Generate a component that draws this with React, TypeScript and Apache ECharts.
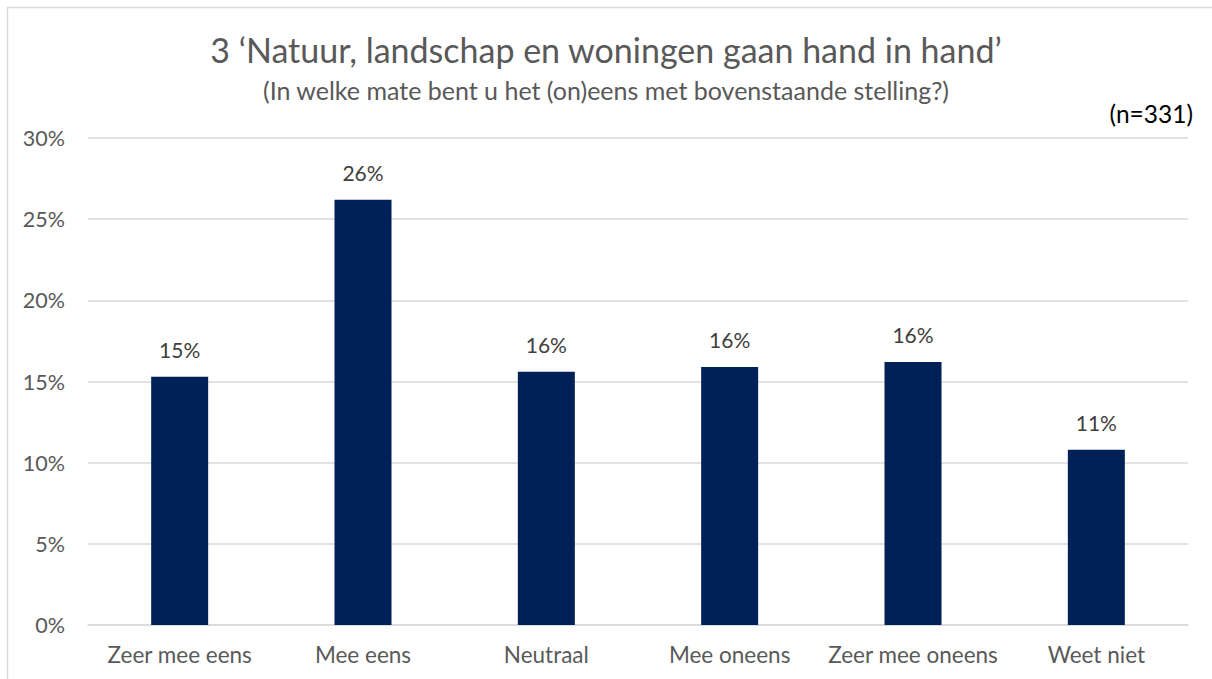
import React, { useEffect, useRef } from "react";
import * as echarts from "echarts";

const categories = ["Zeer mee eens", "Mee eens", "Neutraal", "Mee oneens", "Zeer mee oneens", "Weet niet"];
const values = [15.3, 26.2, 15.6, 15.9, 16.2, 10.8];
const yTicks = [0, 5, 10, 15, 20, 25, 30];

const titleText = "3 \u2018Natuur, landschap en woningen gaan hand in hand\u2019";
const subtitleText = "(In welke mate bent u het (on)eens met bovenstaande stelling?)";
const nText = "(n=331)";

const FONT = "Lato, 'Open Sans', sans-serif";

export default function App() {
  const ref = useRef<HTMLDivElement>(null);
  useEffect(() => {
    if (!ref.current) return;
    const chart = echarts.init(ref.current, undefined, { renderer: "svg" });
    chart.setOption({
      animation: false,
      backgroundColor: "#ffffff",
      textStyle: { fontFamily: FONT },
      title: [
        {
          text: titleText,
          left: "center",
          top: 27,
          textStyle: { fontSize: 34, fontWeight: "normal", color: "#595959", fontFamily: FONT },
        },
        {
          text: subtitleText,
          left: "center",
          top: 72,
          textStyle: { fontSize: 25, fontWeight: "normal", color: "#595959", fontFamily: FONT },
        },
        {
          text: nText,
          right: 14,
          top: 96,
          textStyle: { fontSize: 24.5, fontWeight: "normal", color: "#000000", fontFamily: FONT },
        },
      ],
      graphic: [
        {
          type: "rect",
          shape: { x: 7.5, y: 7.5, width: 1400, height: 900 },
          style: { fill: "none", stroke: "#d9d9d9", lineWidth: 1.5 },
          silent: true,
        },
      ],
      grid: { left: 88, right: 24, top: 138, bottom: 54, containLabel: false },
      xAxis: {
        type: "category",
        data: categories,
        axisLine: { show: true, lineStyle: { color: "#d9d9d9", width: 1.5 } },
        axisTick: { show: false },
        axisLabel: { color: "#595959", fontSize: 22.5, margin: 18, interval: 0, fontFamily: FONT },
      },
      yAxis: {
        type: "value",
        min: yTicks[0],
        max: yTicks[yTicks.length - 1],
        interval: 5,
        axisLine: { show: false },
        axisTick: { show: false },
        axisLabel: { color: "#595959", fontSize: 21.5, margin: 23, formatter: "{value}%", fontFamily: FONT },
        splitLine: { lineStyle: { color: "#d9d9d9", width: 1.5 } },
      },
      series: [
        {
          type: "bar",
          data: values,
          barWidth: 57,
          itemStyle: { color: "#002157" },
          label: {
            show: true,
            position: "top",
            distance: 17,
            color: "#404040",
            fontSize: 21,
            fontFamily: FONT,
            formatter: (p: any) => Math.round(p.value) + "%",
          },
        },
      ],
    });
    return () => chart.dispose();
  }, []);
  return <div ref={ref} style={{ width: 1212, height: 679, position: "absolute", left: 0, top: 0 }} />;
}
